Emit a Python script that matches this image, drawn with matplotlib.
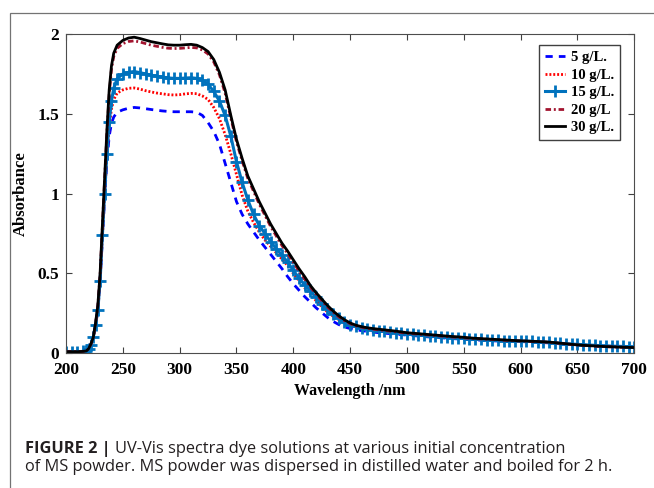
import matplotlib
matplotlib.use("Agg")
import matplotlib.pyplot as plt
from matplotlib.patches import Rectangle

# 파장 (nm)
wavelength = [
    200, 205, 210, 215, 218, 220, 222, 224, 226, 228,
    230, 232, 234, 236, 238, 240, 242, 245, 250, 255,
    260, 265, 270, 275, 280, 285, 290, 295, 300, 305,
    310, 315, 320, 325, 330, 335, 340, 345, 350, 355,
    360, 365, 370, 375, 380, 385, 390, 395, 400, 405,
    410, 415, 420, 425, 430, 435, 440, 445, 450, 455,
    460, 465, 470, 475, 480, 485, 490, 495, 500, 505,
    510, 515, 520, 525, 530, 535, 540, 545, 550, 555,
    560, 565, 570, 575, 580, 585, 590, 595, 600, 605,
    610, 615, 620, 625, 630, 635, 640, 645, 650, 655,
    660, 665, 670, 675, 680, 685, 690, 695, 700,
]

abs_5 = [
    0.010, 0.010, 0.010, 0.012, 0.015, 0.028, 0.055, 0.100, 0.180, 0.270,
    0.450, 0.720, 0.980, 1.200, 1.360, 1.440, 1.480, 1.510, 1.525, 1.535,
    1.540, 1.537, 1.532, 1.527, 1.522, 1.518, 1.515, 1.513, 1.513, 1.513,
    1.513, 1.510, 1.490, 1.445, 1.390, 1.310, 1.190, 1.070, 0.950, 0.870,
    0.810, 0.760, 0.710, 0.665, 0.620, 0.575, 0.530, 0.480, 0.435, 0.395,
    0.355, 0.320, 0.285, 0.255, 0.225, 0.200, 0.180, 0.165, 0.155, 0.148,
    0.142, 0.137, 0.133, 0.129, 0.126, 0.123, 0.120, 0.117, 0.114, 0.111,
    0.108, 0.105, 0.102, 0.100, 0.097, 0.095, 0.092, 0.090, 0.088, 0.086,
    0.084, 0.082, 0.080, 0.078, 0.077, 0.076, 0.075, 0.074, 0.073, 0.072,
    0.071, 0.069, 0.067, 0.065, 0.062, 0.059, 0.057, 0.055, 0.053, 0.051,
    0.049, 0.047, 0.045, 0.044, 0.042, 0.041, 0.040, 0.039, 0.038,
]

abs_10 = [
    0.010, 0.010, 0.010, 0.012, 0.015, 0.028, 0.055, 0.100, 0.180, 0.270,
    0.450, 0.730, 0.990, 1.230, 1.420, 1.530, 1.590, 1.630, 1.650, 1.660,
    1.662, 1.655, 1.645, 1.637, 1.630, 1.625, 1.620, 1.618, 1.620, 1.625,
    1.628, 1.626, 1.612, 1.590, 1.540, 1.470, 1.370, 1.250, 1.120, 0.990,
    0.890, 0.820, 0.760, 0.710, 0.670, 0.630, 0.590, 0.550, 0.500, 0.455,
    0.410, 0.370, 0.330, 0.292, 0.260, 0.232, 0.208, 0.188, 0.173, 0.163,
    0.155, 0.149, 0.144, 0.140, 0.136, 0.132, 0.128, 0.124, 0.120, 0.117,
    0.114, 0.111, 0.108, 0.105, 0.102, 0.099, 0.096, 0.094, 0.091, 0.089,
    0.087, 0.085, 0.083, 0.081, 0.079, 0.078, 0.077, 0.076, 0.075, 0.074,
    0.073, 0.071, 0.069, 0.067, 0.064, 0.061, 0.058, 0.056, 0.054, 0.052,
    0.050, 0.048, 0.046, 0.045, 0.043, 0.042, 0.041, 0.040, 0.039,
]

abs_15 = [
    0.010, 0.010, 0.010, 0.012, 0.015, 0.028, 0.055, 0.100, 0.180, 0.270,
    0.450, 0.740, 1.000, 1.250, 1.450, 1.580, 1.660, 1.720, 1.750, 1.760,
    1.765, 1.758, 1.750, 1.742, 1.735, 1.730, 1.725, 1.722, 1.722, 1.724,
    1.726, 1.722, 1.710, 1.685, 1.640, 1.580, 1.490, 1.360, 1.200, 1.070,
    0.960, 0.870, 0.800, 0.750, 0.700, 0.655, 0.615, 0.570, 0.520, 0.470,
    0.430, 0.390, 0.350, 0.310, 0.275, 0.245, 0.218, 0.197, 0.180, 0.168,
    0.157, 0.151, 0.146, 0.142, 0.138, 0.134, 0.130, 0.126, 0.122, 0.119,
    0.116, 0.113, 0.110, 0.107, 0.104, 0.101, 0.098, 0.096, 0.093, 0.091,
    0.089, 0.087, 0.085, 0.083, 0.081, 0.080, 0.079, 0.078, 0.077, 0.076,
    0.075, 0.073, 0.071, 0.069, 0.066, 0.063, 0.060, 0.058, 0.056, 0.054,
    0.052, 0.050, 0.048, 0.047, 0.045, 0.044, 0.043, 0.042, 0.041,
]

abs_20 = [
    0.010, 0.010, 0.010, 0.012, 0.015, 0.030, 0.058, 0.098, 0.185, 0.295,
    0.490, 0.790, 1.090, 1.380, 1.620, 1.780, 1.860, 1.910, 1.940, 1.953,
    1.957, 1.950, 1.940, 1.930, 1.923, 1.916, 1.911, 1.909, 1.910, 1.913,
    1.916, 1.913, 1.900, 1.875, 1.825, 1.745, 1.630, 1.475, 1.325, 1.205,
    1.095, 1.015, 0.935, 0.865, 0.795, 0.735, 0.675, 0.625, 0.570, 0.515,
    0.465, 0.415, 0.370, 0.330, 0.290, 0.258, 0.228, 0.204, 0.185, 0.172,
    0.163, 0.156, 0.151, 0.147, 0.143, 0.139, 0.135, 0.130, 0.126, 0.123,
    0.120, 0.117, 0.114, 0.111, 0.108, 0.105, 0.102, 0.100, 0.097, 0.094,
    0.092, 0.090, 0.088, 0.086, 0.084, 0.082, 0.080, 0.078, 0.077, 0.076,
    0.074, 0.073, 0.071, 0.069, 0.066, 0.062, 0.059, 0.055, 0.052, 0.049,
    0.047, 0.045, 0.043, 0.041, 0.040, 0.039, 0.038, 0.037, 0.036,
]

abs_30 = [
    0.010, 0.010, 0.010, 0.012, 0.015, 0.030, 0.060, 0.100, 0.190, 0.300,
    0.500, 0.800, 1.100, 1.400, 1.650, 1.800, 1.880, 1.930, 1.960, 1.975,
    1.980, 1.972, 1.962, 1.952, 1.945, 1.938, 1.932, 1.930, 1.930, 1.933,
    1.935, 1.930, 1.915, 1.890, 1.840, 1.760, 1.650, 1.490, 1.340, 1.220,
    1.110, 1.030, 0.950, 0.880, 0.810, 0.750, 0.690, 0.640, 0.585, 0.530,
    0.480, 0.425, 0.380, 0.340, 0.300, 0.265, 0.235, 0.210, 0.190, 0.176,
    0.167, 0.160, 0.155, 0.151, 0.147, 0.143, 0.139, 0.134, 0.129, 0.126,
    0.123, 0.120, 0.117, 0.114, 0.111, 0.108, 0.105, 0.103, 0.100, 0.097,
    0.094, 0.092, 0.090, 0.088, 0.086, 0.084, 0.082, 0.080, 0.078, 0.077,
    0.075, 0.074, 0.072, 0.070, 0.067, 0.063, 0.060, 0.056, 0.053, 0.050,
    0.048, 0.046, 0.044, 0.042, 0.041, 0.039, 0.038, 0.037, 0.036,
]

labels = ["5 g/L.", "10 g/L.", "15 g/L.", "20 g/L", "30 g/L."]
x_ticks = [200, 250, 300, 350, 400, 450, 500, 550, 600, 650, 700]
y_ticks = [0, 0.5, 1, 1.5, 2]
y_ticklabels = ["0", "0.5", "1", "1.5", "2"]

plt.rcParams["font.family"] = ["Liberation Serif", "DejaVu Serif"]
plt.rcParams["font.weight"] = "bold"

W, H = 654, 488
fig = plt.figure(figsize=(W / 100, H / 100), dpi=100)
fig.patch.set_facecolor("white")

# 축 위치 (픽셀 기준)
left, right, top, bottom = 66, 634.3, 34, 353.3
ax = fig.add_axes([left / W, 1 - bottom / H, (right - left) / W, (bottom - top) / H])

ax.plot(wavelength, abs_5, color="#0000FF", lw=2, dashes=(2.6, 2.2), label=labels[0])
ax.plot(wavelength, abs_10, color="#FF0000", lw=2, dashes=(0.7, 0.7), label=labels[1])
ax.plot(wavelength, abs_15, color="#0072BD", lw=2.2, marker="+", ms=8.5, mew=2,
        label=labels[2])
ax.plot(wavelength, abs_20, color="#A2142F", lw=2, dashes=(2.0, 1.0, 0.7, 1.0),
        label=labels[3])
ax.plot(wavelength, abs_30, color="black", lw=2, label=labels[4])

ax.set_xlim(200, 700)
ax.set_ylim(0, 2)
ax.set_xticks(x_ticks)
ax.set_yticks(y_ticks)
ax.set_yticklabels(y_ticklabels)
ax.tick_params(direction="in", top=True, right=True, length=4, width=0.8,
               colors="0.25", labelcolor="black", labelsize=12.5)
ax.tick_params(axis="x", pad=6)
ax.tick_params(axis="y", pad=5)
for sp in ax.spines.values():
    sp.set_color("0.3")
    sp.set_linewidth(0.8)

ax.set_xlabel("Wavelength /nm", fontsize=11.5, fontweight="bold", labelpad=4)
ax.set_ylabel("Absorbance", fontsize=12, fontweight="bold", labelpad=6)

leg = ax.legend(loc="upper right", bbox_to_anchor=((620 - left) / (right - left),
                (bottom - 45) / (bottom - top)), borderaxespad=0,
                prop={"family": "Liberation Serif", "weight": "bold", "size": 10.5},
                handlelength=1.4, handletextpad=0.4, labelspacing=0.3,
                borderpad=0.4, fancybox=False, framealpha=1)
leg.get_frame().set_edgecolor("0.25")
leg.get_frame().set_linewidth(1.0)

# 바깥 테두리
fig.add_artist(Rectangle((9.5 / W, -0.1), 1.0, (H - 12.7) / H + 0.1,
                         transform=fig.transFigure, fill=False,
                         edgecolor="0.45", linewidth=0.9))

# 캡션
cap_x = 25 / W
line1_y = 1 - 453.3 / H
line2_y = 1 - 470.7 / H
cap_font = ["Open Sans", "DejaVu Sans"]
cap_size = 11.8
t_bold = fig.text(cap_x, line1_y, "FIGURE 2 |", family=cap_font, weight="bold",
                  size=cap_size, color="#231F20", va="baseline")
fig.canvas.draw()
bb = t_bold.get_window_extent()
fig.text(bb.x1 / W + 4 / W, line1_y,
         "UV-Vis spectra dye solutions at various initial concentration",
         family=cap_font, weight="normal", size=cap_size, color="#231F20",
         va="baseline")
fig.text(cap_x, line2_y,
         "of MS powder. MS powder was dispersed in distilled water and boiled for 2 h.",
         family=cap_font, weight="normal", size=cap_size, color="#231F20",
         va="baseline")

fig.savefig("out.png", dpi=100)
